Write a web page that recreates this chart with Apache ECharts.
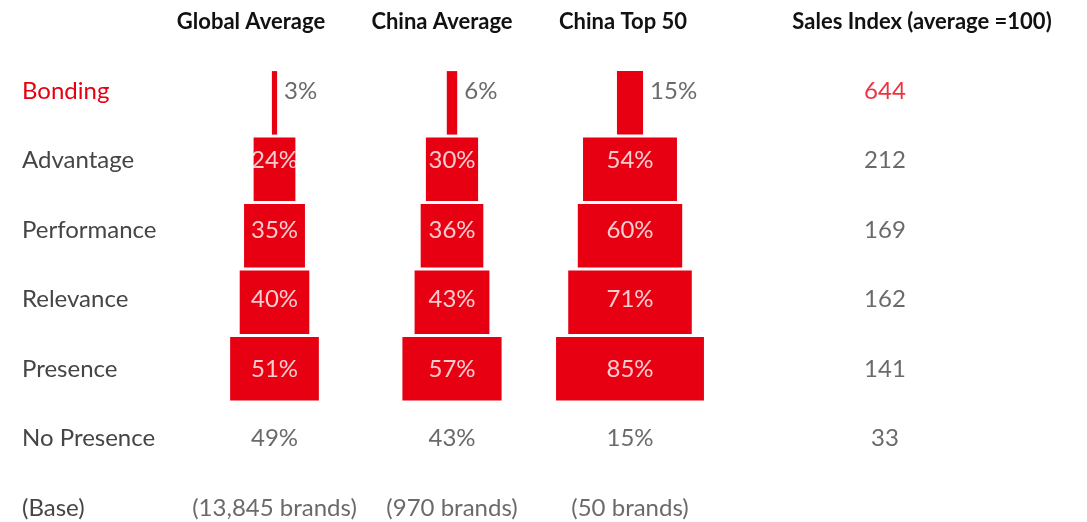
<!DOCTYPE html>
<html>
<head>
<meta charset="utf-8">
<script src="https://cdn.jsdelivr.net/npm/echarts@6/dist/echarts.min.js"></script>
<style>html,body{margin:0;padding:0;background:#fff}#c{width:1087px;height:522px}</style>
</head>
<body>
<div id="c"></div>
<script>
// ---- data ----
const rowNames = ['Bonding', 'Advantage', 'Performance', 'Relevance', 'Presence'];
const labelRows = ['Bonding', 'Advantage', 'Performance', 'Relevance', 'Presence', 'No Presence', '(Base)'];
const headers = ['Global Average', 'China Average', 'China Top 50', 'Sales Index (average =100)'];
const globalAvg = [3, 24, 35, 40, 51];
const chinaAvg = [6, 30, 36, 43, 57];
const chinaTop50 = [15, 54, 60, 71, 85];
const noPresence = [49, 43, 15];
const baseBrands = ['(13,845 brands)', '(970 brands)', '(50 brands)'];
const salesIndex = [644, 212, 169, 162, 141, 33];

// ---- layout / style ----
const RED = '#E60012';
const GREY = '#454545';
const FONT = 'Lato';
const FS = 24;
const colCenters = [274.5, 452, 630];
const salesCenter = 885;
const headerX = [251, 442, 623, 922];
const PX = 1.74;           // px per percentage point
const halfW = 50 * PX;
const barTop = 69.6, barH = 66.5 * 5;
const lblTop = 91, lblH = 69.5 * 6;   // first/last label rows on the grid edges

const columns = [globalAvg, chinaAvg, chinaTop50];
const grids = [], xAxes = [], yAxes = [], series = [];

function addGrid(center, top, height) {
  grids.push({ left: center - halfW, width: 2 * halfW, top: top, height: height, containLabel: false });
  return grids.length - 1;
}

columns.forEach((vals, ci) => {
  const c = colCenters[ci];
  // bar grid
  const gb = addGrid(c, barTop, barH);
  xAxes.push({ gridIndex: gb, type: 'value', min: 0, max: 100, show: false });
  yAxes.push({ gridIndex: gb, type: 'category', data: rowNames, inverse: true, show: false });
  const axB = xAxes.length - 1;
  series.push({
    type: 'bar', xAxisIndex: axB, yAxisIndex: axB, stack: 'p' + ci, barWidth: 63.5,
    itemStyle: { color: 'transparent' }, silent: true,
    data: vals.map(v => 50 - v / 2)
  });
  series.push({
    type: 'bar', xAxisIndex: axB, yAxisIndex: axB, stack: 'p' + ci, barWidth: 63.5,
    itemStyle: { color: RED }, data: vals
  });
  // label grid
  const gl = addGrid(c, lblTop, lblH);
  xAxes.push({ gridIndex: gl, type: 'value', min: -50, max: 50, show: false });
  const showNames = ci === 0;
  yAxes.push({
    gridIndex: gl, type: 'category', data: labelRows, inverse: true, boundaryGap: false, show: showNames,
    axisLine: { show: false }, axisTick: { show: false }, splitLine: { show: false },
    axisLabel: {
      show: showNames, align: 'left', margin: c - halfW - 22, interval: 0,
      fontFamily: FONT, fontSize: FS,
      color: (v, i) => (i === 0 ? RED : GREY)
    }
  });
  const axL = xAxes.length - 1;
  const items = [];
  vals.forEach((v, r) => {
    if (r === 0) {
      items.push({ value: [v / 2, labelRows[r]], text: v + '%',
        label: { position: 'right', distance: 7, color: GREY } });
    } else {
      items.push({ value: [0, labelRows[r]], text: v + '%',
        label: { position: 'inside', color: '#fff' } });
    }
  });
  items.push({ value: [0, labelRows[5]], text: noPresence[ci] + '%', label: { position: 'inside', color: GREY } });
  items.push({ value: [0, labelRows[6]], text: baseBrands[ci], label: { position: 'inside', color: GREY } });
  series.push({
    type: 'scatter', xAxisIndex: axL, yAxisIndex: axL, symbolSize: 0, silent: true,
    label: { show: true, fontFamily: FONT, fontSize: FS, formatter: p => p.data.text },
    data: items
  });
});

// sales index column
const gs = addGrid(salesCenter, lblTop, lblH);
xAxes.push({ gridIndex: gs, type: 'value', min: -50, max: 50, show: false });
yAxes.push({ gridIndex: gs, type: 'category', data: labelRows, inverse: true, boundaryGap: false, show: false });
const axS = xAxes.length - 1;
series.push({
  type: 'scatter', xAxisIndex: axS, yAxisIndex: axS, symbolSize: 0, silent: true,
  label: { show: true, position: 'inside', fontFamily: FONT, fontSize: FS, formatter: p => p.data.text },
  data: salesIndex.map((v, r) => ({ value: [0, labelRows[r]], text: String(v),
    label: { color: r === 0 ? RED : GREY } }))
});

const chart = echarts.init(document.getElementById('c'), null, { renderer: 'canvas' });
chart.setOption({
  animation: false,
  backgroundColor: '#fff',
  grid: grids, xAxis: xAxes, yAxis: yAxes, series: series,
  graphic: headers.map((h, i) => ({
    type: 'text', x: headerX[i], y: 22, silent: true,
    style: { text: h, align: 'center', verticalAlign: 'middle', fontFamily: FONT, fontSize: 22, fontWeight: 'bold', fill: '#111' }
  }))
});
</script>
</body>
</html>
